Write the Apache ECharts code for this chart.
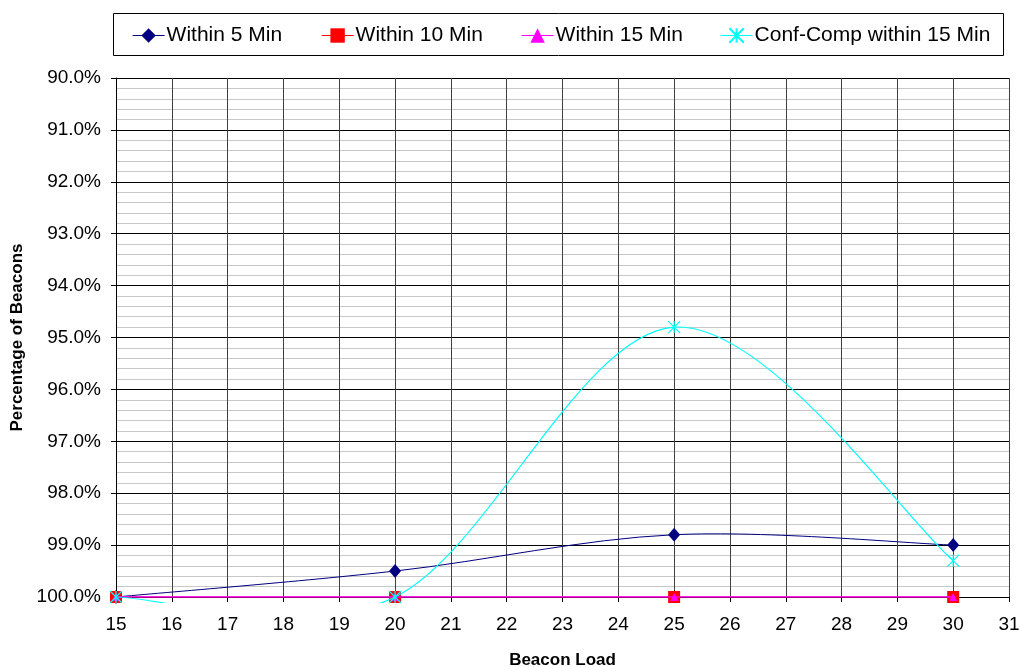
<!DOCTYPE html>
<html>
<head>
<meta charset="utf-8">
<script src="https://cdn.jsdelivr.net/npm/echarts@6/dist/echarts.min.js"></script>
<style>
html,body{margin:0;padding:0;background:#fff;}
#chart{width:1020px;height:667px;}
</style>
</head>
<body>
<div id="chart"></div>
<script>
// Data
const beaconLoad = [15, 20, 25, 30];
const within5 = [100, 99.5, 98.8, 99.0];
const within10 = [100, 100, 100, 100];
const within15 = [100, 100, 100, 100];
const confComp15 = [100, 100, 94.8, 99.3];
const seriesNames = ['Within 5 Min', 'Within 10 Min', 'Within 15 Min', 'Conf-Comp within 15 Min'];
const seriesColors = ['#000080', '#FF0000', '#FF00FF', '#00FFFF'];

const pairs = (ys) => beaconLoad.map((x, i) => [x, ys[i]]);
const FONT = 'Arial, "Liberation Sans", sans-serif';
const starPath = 'path://M0,0L10,10M10,0L0,10M5,0L5,10';

// Excel-like spline through the library's pixel coordinates of the data points
function splineSeries(ys, color, width, z) {
  return {
    type: 'custom',
    data: pairs(ys),
    clip: false,
    silent: true,
    z: z,
    encode: {x: 0, y: 1},
    renderItem: function (params, api) {
      if (params.dataIndex !== 0) return null;
      const pts = beaconLoad.map((x, i) => api.coord([x, ys[i]]));
      const n = pts.length;
      let d = 'M' + pts[0][0] + ' ' + pts[0][1];
      for (let i = 0; i < n - 1; i++) {
        const p0 = pts[Math.max(i - 1, 0)];
        const p1 = pts[i];
        const p2 = pts[i + 1];
        const p3 = pts[Math.min(i + 2, n - 1)];
        const c1x = p1[0] + (p2[0] - p0[0]) / 6;
        const c1y = p1[1] + (p2[1] - p0[1]) / 6;
        const c2x = p2[0] - (p3[0] - p1[0]) / 6;
        const c2y = p2[1] - (p3[1] - p1[1]) / 6;
        d += ' C' + c1x + ' ' + c1y + ' ' + c2x + ' ' + c2y + ' ' + p2[0] + ' ' + p2[1];
      }
      const cs = params.coordSys;
      return {
        type: 'path',
        shape: {pathData: d},
        style: {stroke: color, fill: null, lineWidth: width},
        clipPath: {type: 'rect', shape: {x: cs.x, y: cs.y, width: cs.width, height: cs.height + 6}}
      };
    }
  };
}

const chart = echarts.init(document.getElementById('chart'), null, {renderer: 'canvas'});

const legendLefts = [132, 321, 521, 720];
const legends = seriesNames.map((n, i) => ({
  data: [n],
  left: legendLefts[i],
  top: 25,
  padding: 0,
  itemWidth: 32,
  itemHeight: 18,
  itemGap: 4,
  selectedMode: false,
  lineStyle: {opacity: 1, width: 1.2, color: seriesColors[i]},
  textStyle: {fontFamily: FONT, fontSize: 21, color: '#000', padding: [0, 0, 0, -3]}
}));

chart.setOption({
  animation: false,
  backgroundColor: '#fff',
  graphic: [{
    type: 'rect',
    shape: {x: 113.5, y: 13.5, width: 890, height: 42},
    style: {fill: '#fff', stroke: '#000', lineWidth: 1},
    z: -1
  }],
  legend: legends,
  grid: {left: 116, right: 11, top: 78, bottom: 70, containLabel: false, outerBoundsMode: 'none'},
  xAxis: {
    type: 'value',
    min: 15, max: 31, interval: 1,
    name: 'Beacon Load',
    nameLocation: 'middle',
    nameGap: 55,
    nameTextStyle: {fontFamily: FONT, fontSize: 17, fontWeight: 'bold', color: '#000'},
    axisLine: {show: true, onZero: false, lineStyle: {color: '#000', width: 1}},
    axisTick: {show: true, length: 5, lineStyle: {color: '#000'}},
    axisLabel: {fontFamily: FONT, fontSize: 19, color: '#000', margin: 18},
    splitLine: {show: true, lineStyle: {color: '#404040', width: 1}}
  },
  yAxis: {
    type: 'value',
    inverse: true,
    min: 90, max: 100, interval: 1,
    name: 'Percentage of Beacons',
    nameLocation: 'middle',
    nameGap: 86,
    nameTextStyle: {fontFamily: FONT, fontSize: 17, fontWeight: 'bold', color: '#000'},
    axisLine: {show: true, lineStyle: {color: '#000', width: 1}},
    axisTick: {show: true, length: 5, lineStyle: {color: '#000'}},
    axisLabel: {fontFamily: FONT, fontSize: 19, color: '#000', margin: 15,
      formatter: (v) => v.toFixed(1) + '%'},
    splitLine: {show: true, lineStyle: {color: '#000', width: 1}},
    minorTick: {show: false, splitNumber: 5},
    minorSplitLine: {show: true, lineStyle: {color: '#c8c8c8', width: 1}}
  },
  series: [
    splineSeries(within5, seriesColors[0], 1, 2),
    {
      name: seriesNames[0], type: 'line',
      data: pairs(within5),
      symbol: 'diamond', symbolSize: [12, 14],
      lineStyle: {opacity: 0},
      itemStyle: {color: seriesColors[0]},
      z: 2.5
    },
    {
      name: seriesNames[1], type: 'line',
      data: pairs(within10),
      symbol: 'rect', symbolSize: 12,
      lineStyle: {color: seriesColors[1], width: 1},
      itemStyle: {color: seriesColors[1]},
      z: 3
    },
    {
      name: seriesNames[2], type: 'line',
      data: pairs(within15),
      symbol: 'triangle', symbolSize: 8,
      lineStyle: {color: seriesColors[2], width: 1.5},
      itemStyle: {color: seriesColors[2]},
      z: 4
    },
    splineSeries(confComp15, seriesColors[3], 1.2, 5),
    {
      name: seriesNames[3], type: 'line',
      data: pairs(confComp15),
      symbol: starPath, symbolSize: 12,
      lineStyle: {opacity: 0},
      itemStyle: {color: 'rgba(0,0,0,0)', borderColor: seriesColors[3], borderWidth: 1.2},
      z: 5.5
    }
  ]
});
</script>
</body>
</html>
